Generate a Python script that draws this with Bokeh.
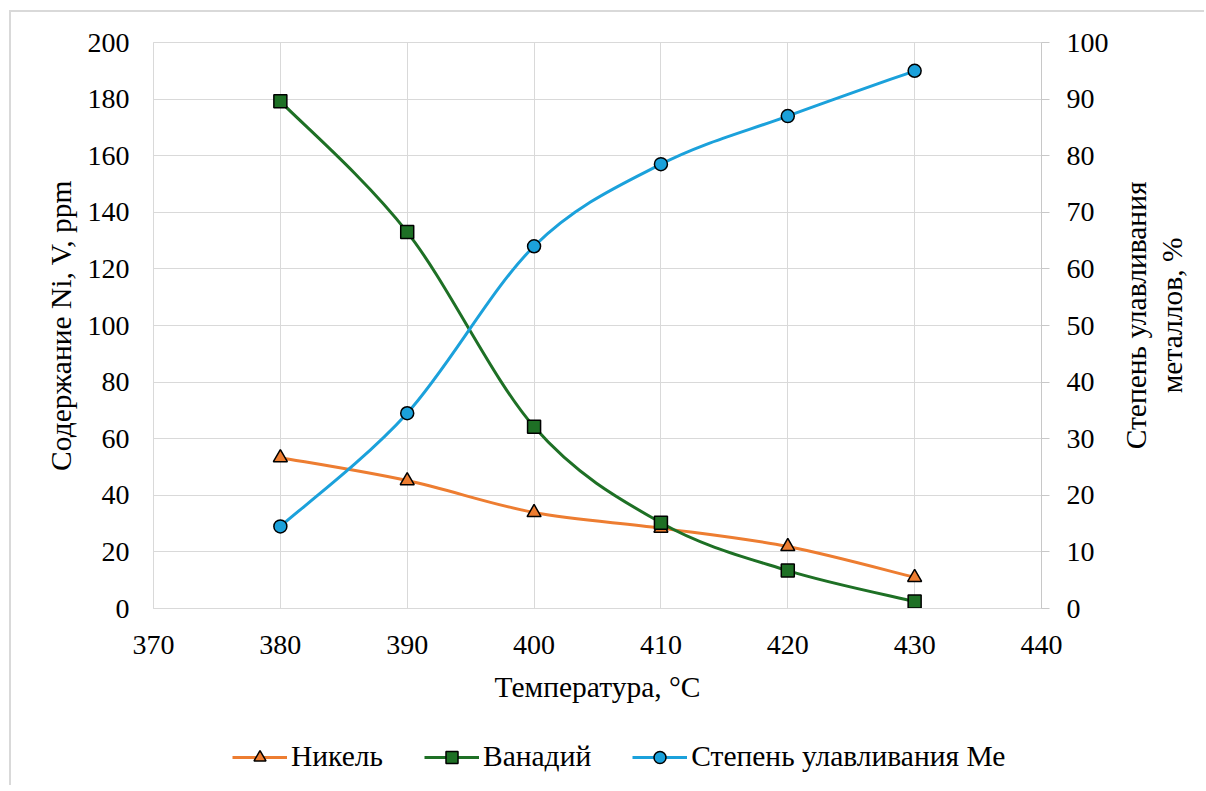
import numpy as np
from bokeh.plotting import figure
from bokeh.layouts import column, row
from bokeh.models import Range1d, LinearAxis, FixedTicker, Legend, LegendItem, Label
from bokeh.embed import file_html
from bokeh.resources import INLINE

temps = [380, 390, 400, 410, 420, 430]
nickel = [53.3, 45.2, 33.9, 28.4, 21.9, 11.0]
vanadium = [179.2, 133.0, 64.2, 30.3, 13.4, 2.5]
recovery = [14.5, 34.5, 64.0, 78.5, 87.0, 95.0]

x_ticks = [370, 380, 390, 400, 410, 420, 430, 440]
left_ticks = [0, 20, 40, 60, 80, 100, 120, 140, 160, 180, 200]
right_ticks = [0, 10, 20, 30, 40, 50, 60, 70, 80, 90, 100]

x_title = "Температура, °C"
left_title = "Содержание Ni, V, ppm"
right_title = "Степень улавливания\nметаллов, %"
names = ["Никель", "Ванадий", "Степень улавливания Ме"]

FONT = "Liberation Serif"
FS = "28px"
TFS = "29.5px"
GRID = "#d9d9d9"

ORANGE = "#ED7D31"
GREEN = "#1E7025"
BLUE = "#1BA1DB"

MAIN_W, MAIN_H = 1115, 730
SIDE_W = 89
LEG_H = 55


def smooth(xs, ys):
    x = np.asarray(xs, float)
    y = np.asarray(ys, float)
    xp = np.concatenate([[x[0]], x, [x[-1]]])
    yp = np.concatenate([[y[0]], y, [y[-1]]])
    return dict(
        x0=x[:-1], y0=y[:-1], x1=x[1:], y1=y[1:],
        cx0=x[:-1] + (xp[2:-1] - xp[:-3]) / 6.0,
        cy0=y[:-1] + (yp[2:-1] - yp[:-3]) / 6.0,
        cx1=x[1:] - (xp[3:] - xp[1:-2]) / 6.0,
        cy1=y[1:] - (yp[3:] - yp[1:-2]) / 6.0,
    )


# ---------------- main chart ----------------
p = figure(width=MAIN_W, height=MAIN_H, x_range=Range1d(370, 440), y_range=Range1d(0, 200),
           output_backend="svg", toolbar_location=None,
           min_border_left=153, min_border_right=MAIN_W - 1041, min_border_top=42,
           min_border_bottom=MAIN_H - 608)
p.extra_y_ranges = {"pct": Range1d(0, 100)}
p.border_fill_color = None
p.background_fill_color = "white"
p.outline_line_color = GRID

p.xgrid.ticker = FixedTicker(ticks=x_ticks)
p.ygrid.ticker = FixedTicker(ticks=left_ticks)
for g in (p.xgrid, p.ygrid):
    g.grid_line_color = GRID
    g.grid_line_width = 1

xa = p.xaxis[0]
xa.ticker = FixedTicker(ticks=x_ticks)
xa.axis_label = x_title
xa.major_label_standoff = 27
xa.axis_label_standoff = 14

ya = p.yaxis[0]
ya.ticker = FixedTicker(ticks=left_ticks)
ya.axis_label = left_title
ya.major_label_standoff = 24
ya.axis_label_standoff = 8

for ax in (xa, ya):
    ax.major_tick_out = 0
    ax.major_tick_in = 0
    ax.minor_tick_out = 0
    ax.minor_tick_in = 0
    ax.axis_line_color = GRID

ra = LinearAxis(y_range_name="pct", ticker=FixedTicker(ticks=right_ticks))
ra.major_tick_out = 8
ra.major_tick_in = 0
ra.minor_tick_out = 0
ra.minor_tick_in = 0
ra.axis_line_color = "#c8c8c8"
ra.major_tick_line_color = "#c8c8c8"
ra.major_label_standoff = 17
p.add_layout(ra, "right")

for ax in (xa, ya, ra):
    ax.major_label_text_font = FONT
    ax.major_label_text_font_size = FS
    ax.major_label_text_color = "black"
    ax.axis_label_text_font = FONT
    ax.axis_label_text_font_size = TFS
    ax.axis_label_text_font_style = "normal"
    ax.axis_label_text_color = "black"

s_ni = smooth(temps, nickel)
s_v = smooth(temps, vanadium)
s_r = smooth(temps, recovery)

p.bezier(line_color=ORANGE, line_width=3, source=s_ni, **{k: k for k in s_ni})
p.scatter(temps, nickel, marker="triangle", size=14, fill_color=ORANGE,
          line_color="black", line_width=1.5)
p.bezier(line_color=GREEN, line_width=3, source=s_v, **{k: k for k in s_v})
p.scatter(temps, vanadium, marker="square", size=13, fill_color=GREEN,
          line_color="black", line_width=1.5)
p.bezier(line_color=BLUE, line_width=3, source=s_r, y_range_name="pct", **{k: k for k in s_r})
p.scatter(temps, recovery, marker="circle", size=13, fill_color=BLUE,
          line_color="black", line_width=1.5, y_range_name="pct")

# ---------------- right-hand axis title (reads bottom-to-top) ----------------
side = figure(width=SIDE_W, height=MAIN_H, x_range=Range1d(0, SIDE_W), y_range=Range1d(0, MAIN_H),
              output_backend="svg", toolbar_location=None, x_axis_type=None, y_axis_type=None,
              min_border=0, min_border_left=0, min_border_right=0, min_border_top=0,
              min_border_bottom=0)
side.grid.visible = False
side.outline_line_color = None
side.border_fill_color = None
side.background_fill_color = None
side.add_layout(Label(x=1153.5 - MAIN_W, y=378, text=right_title, angle=np.pi / 2,
                      text_align="center", text_baseline="middle", text_line_height=1.12,
                      text_font=FONT, text_font_size=TFS, text_color="black"))

# ---------------- legend strip ----------------
lf = figure(width=MAIN_W + SIDE_W, height=LEG_H, x_range=Range1d(0, 1), y_range=Range1d(0, 1),
            output_backend="svg", toolbar_location=None, x_axis_type=None, y_axis_type=None,
            min_border=0, min_border_left=0, min_border_right=0, min_border_top=0,
            min_border_bottom=0)
lf.grid.visible = False
lf.outline_line_color = None
lf.border_fill_color = None
lf.background_fill_color = None

g_ni = lf.line(temps, nickel, line_color=ORANGE, line_width=3)
k_ni = lf.scatter(temps, nickel, marker="triangle", size=14, fill_color=ORANGE,
                  line_color="black", line_width=1.5)
g_v = lf.line(temps, vanadium, line_color=GREEN, line_width=3)
k_v = lf.scatter(temps, vanadium, marker="square", size=13, fill_color=GREEN,
                 line_color="black", line_width=1.5)
g_r = lf.line(temps, recovery, line_color=BLUE, line_width=3)
k_r = lf.scatter(temps, recovery, marker="circle", size=13, fill_color=BLUE,
                 line_color="black", line_width=1.5)

legend = Legend(items=[LegendItem(label=names[0], renderers=[g_ni, k_ni]),
                       LegendItem(label=names[1], renderers=[g_v, k_v]),
                       LegendItem(label=names[2], renderers=[g_r, k_r])],
                location=(232, 12), orientation="horizontal",
                glyph_width=55, glyph_height=30, label_height=30, label_standoff=4,
                spacing=41, padding=0, margin=0,
                label_text_font=FONT, label_text_font_size="29.5px", label_text_color="black",
                background_fill_alpha=0, border_line_alpha=0)
lf.add_layout(legend)

layout = column(row(p, side, spacing=0), lf, spacing=0)
layout.styles = {"box-shadow": "inset 9px 10px 0 0 #ffffff, inset 11px 12px 0 0 #d9d9d9"}

open("out.html", "w").write(file_html(layout, INLINE))
